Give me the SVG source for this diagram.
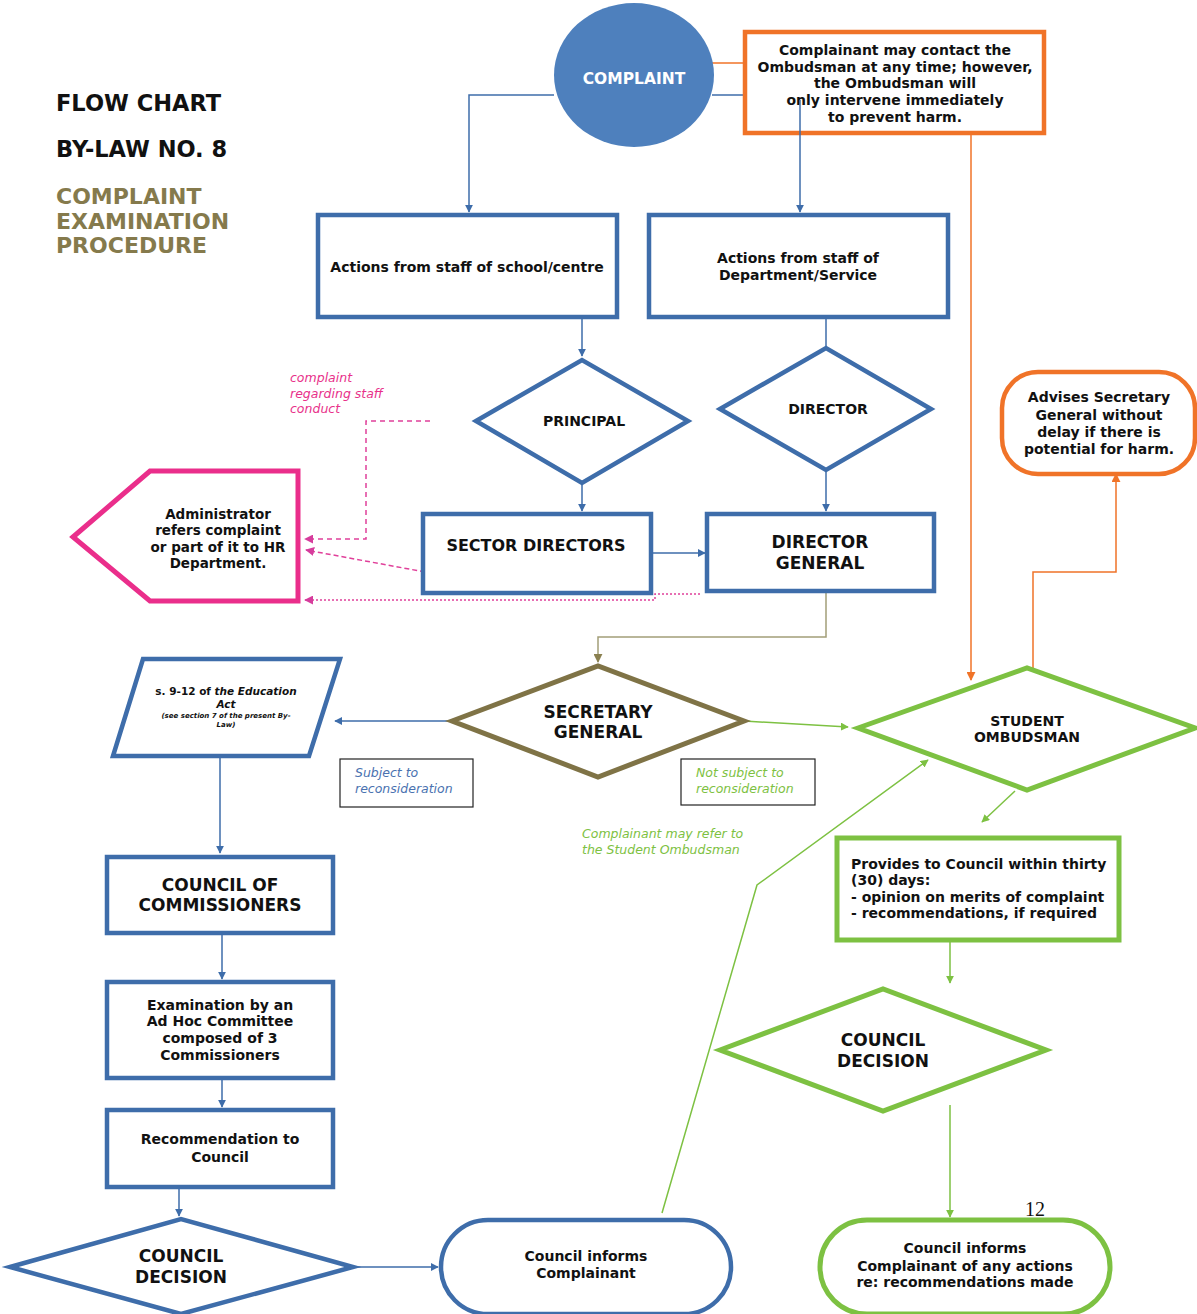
<svg xmlns="http://www.w3.org/2000/svg" width="1197" height="1314" viewBox="0 0 1197 1314">
<style>
text{font-family:"DejaVu Sans","Liberation Sans",Arial,sans-serif;font-weight:bold;fill:#111;text-anchor:middle}
.b{fill:#fff;stroke:#3E6DAA;stroke-width:4.5}
.g{fill:#fff;stroke:#7DC142;stroke-width:5}
.o{fill:#fff;stroke:#F07328;stroke-width:4.5}
.cb{stroke:#3E6DAA;stroke-width:1.5;fill:none}
.cg{stroke:#7DC142;stroke-width:1.5;fill:none}
.co{stroke:#F07328;stroke-width:1.5;fill:none}
.cp{stroke:#E0409A;stroke-width:1.5;fill:none}
.it{font-style:italic;font-weight:normal;text-anchor:start;font-size:12.5px}
.t14{font-size:14px}
.t17{font-size:17px}
</style>
<defs>
<marker id="ab" viewBox="0 0 10 10" refX="9" refY="5" markerWidth="8" markerHeight="8" orient="auto" markerUnits="userSpaceOnUse"><path d="M0,0L10,5L0,10z" fill="#3E6DAA"/></marker>
<marker id="ag" viewBox="0 0 10 10" refX="9" refY="5" markerWidth="8" markerHeight="8" orient="auto" markerUnits="userSpaceOnUse"><path d="M0,0L10,5L0,10z" fill="#7DC142"/></marker>
<marker id="ao" viewBox="0 0 10 10" refX="9" refY="5" markerWidth="9" markerHeight="9" orient="auto" markerUnits="userSpaceOnUse"><path d="M0,0L10,5L0,10z" fill="#F07328"/></marker>
<marker id="ap" viewBox="0 0 10 10" refX="9" refY="5" markerWidth="9" markerHeight="9" orient="auto" markerUnits="userSpaceOnUse"><path d="M0,0L10,5L0,10z" fill="#D63C9C"/></marker>
<marker id="av" viewBox="0 0 10 10" refX="9" refY="5" markerWidth="9" markerHeight="9" orient="auto" markerUnits="userSpaceOnUse"><path d="M0,0L10,5L0,10z" fill="#8A8050"/></marker>
</defs>
<rect width="1197" height="1314" fill="#fff"/>

<g id="title">
<text x="56" y="111" style="text-anchor:start;font-size:22.5px">FLOW CHART</text>
<text x="56" y="157" style="text-anchor:start;font-size:22.5px">BY-LAW NO. 8</text>
<text x="56" y="204" style="text-anchor:start;font-size:22px;fill:#857A4C">COMPLAINT</text>
<text x="56" y="229" style="text-anchor:start;font-size:22px;fill:#857A4C">EXAMINATION</text>
<text x="56" y="253" style="text-anchor:start;font-size:22px;fill:#857A4C">PROCEDURE</text>
</g>

<g id="connectors">
<path class="cb" d="M554,95H469V212" marker-end="url(#ab)"/>
<path class="cb" d="M712,95H746"/>
<path class="co" d="M712,63H746"/>
<path class="co" d="M971,133V680" marker-end="url(#ao)"/>
<path class="co" d="M1033,668V572H1116V474" marker-end="url(#ao)"/>
<path class="cb" d="M582,317V356" marker-end="url(#ab)"/>
<path class="cb" d="M826,317V348"/>
<path class="cb" d="M582,483V511" marker-end="url(#ab)"/>
<path class="cb" d="M826,470V511" marker-end="url(#ab)"/>
<path class="cb" d="M651,553H705" marker-end="url(#ab)"/>
<path class="cp" d="M430,421H366V539H305" stroke-dasharray="5,4" marker-end="url(#ap)"/>
<path class="cp" d="M425,572L306,550" stroke-dasharray="5,3" marker-end="url(#ap)"/>
<path class="cp" d="M700,594H655V600H305" stroke-dasharray="2,2" marker-end="url(#ap)"/>
<path d="M826,591V637H598V662" stroke="#A39E78" stroke-width="1.5" fill="none" marker-end="url(#av)"/>
<path class="cb" d="M452,721H335" marker-end="url(#ab)"/>
<path class="cg" d="M744,721L848,727" marker-end="url(#ag)"/>
<path class="cb" d="M220,756V853" marker-end="url(#ab)"/>
<path class="cb" d="M222,933V979" marker-end="url(#ab)"/>
<path class="cb" d="M222,1062V1107" marker-end="url(#ab)"/>
<path class="cb" d="M179,1187V1216" marker-end="url(#ab)"/>
<path class="cb" d="M353,1267H438" marker-end="url(#ab)"/>
<path class="cg" d="M662,1213L757,885L928,760" marker-end="url(#ag)"/>
<path class="cg" d="M1015,791L982,822" marker-end="url(#ag)"/>
<path class="cg" d="M950,940V983" marker-end="url(#ag)"/>
<path class="cg" d="M950,1105V1217" marker-end="url(#ag)"/>
</g>

<g id="complaint">
<ellipse cx="634" cy="75" rx="80" ry="72" fill="#4E80BD"/>
<text x="634" y="84" style="fill:#fff;font-size:15.5px">COMPLAINT</text>
</g>

<g id="ombudsman-note">
<rect class="o" x="745" y="32" width="299" height="101"/>
<text class="t14" x="895" y="55">Complainant may contact the</text>
<text class="t14" x="895" y="72">Ombudsman at any time; however,</text>
<text class="t14" x="895" y="88">the Ombudsman will</text>
<text class="t14" x="895" y="105">only intervene immediately</text>
<text class="t14" x="895" y="122">to prevent harm.</text>
<path class="cb" d="M800,100V212" marker-end="url(#ab)"/>
</g>

<g id="school-staff">
<rect class="b" x="318" y="215" width="299" height="102"/>
<text class="t14" x="467" y="272">Actions from staff of school/centre</text>
</g>

<g id="dept-staff">
<rect class="b" x="649" y="215" width="299" height="102"/>
<text class="t14" x="798" y="263">Actions from staff of</text>
<text class="t14" x="798" y="280">Department/Service</text>
</g>

<g id="principal">
<path class="b" d="M476,421L582,360L688,421L582,483Z"/>
<text class="t14" x="584" y="426">PRINCIPAL</text>
</g>

<g id="director">
<path class="b" d="M720,409L826,348L931,409L826,470Z"/>
<text class="t14" x="828" y="414">DIRECTOR</text>
</g>

<g id="sector-directors">
<rect class="b" x="423" y="514" width="228" height="79"/>
<text x="536" y="551" style="font-size:16px">SECTOR DIRECTORS</text>
</g>

<g id="director-general">
<rect class="b" x="707" y="514" width="227" height="77"/>
<text class="t17" x="820" y="548">DIRECTOR</text>
<text class="t17" x="820" y="569">GENERAL</text>
</g>

<g id="hr-note">
<text class="it" x="290" y="382" style="fill:#E8318A">complaint</text>
<text class="it" x="290" y="398" style="fill:#E8318A">regarding staff</text>
<text class="it" x="290" y="413" style="fill:#E8318A">conduct</text>
</g>

<g id="administrator">
<path d="M73,537L150,471H298V601H150Z" fill="#fff" stroke="#EA2E8B" stroke-width="5"/>
<text x="218" y="519" style="font-size:13.5px">Administrator</text>
<text x="218" y="535" style="font-size:13.5px">refers complaint</text>
<text x="218" y="552" style="font-size:13.5px">or part of it to HR</text>
<text x="218" y="568" style="font-size:13.5px">Department.</text>
</g>

<g id="secretary-general">
<path d="M452,721L598,666L744,721L598,777Z" fill="#fff" stroke="#7F7346" stroke-width="5"/>
<text class="t17" x="598" y="718">SECRETARY</text>
<text class="t17" x="598" y="738">GENERAL</text>
</g>

<g id="education-act">
<path class="b" d="M143,659H340L309,756H113Z"/>
<text x="226" y="695" style="font-size:10.5px">s. 9-12 of <tspan font-style="italic">the Education</tspan></text>
<text x="226" y="708" style="font-size:10.5px;font-style:italic">Act</text>
<text x="226" y="718" style="font-size:7px;font-style:italic">(see section 7 of the present By-</text>
<text x="226" y="727" style="font-size:7px;font-style:italic">Law)</text>
</g>

<g id="subject-label">
<rect x="340" y="759" width="133" height="48" fill="#fff" stroke="#222" stroke-width="1.2"/>
<text class="it" x="355" y="777" style="fill:#4A72B0">Subject to</text>
<text class="it" x="355" y="793" style="fill:#4A72B0">reconsideration</text>
</g>

<g id="not-subject-label">
<rect x="681" y="759" width="134" height="46" fill="#fff" stroke="#222" stroke-width="1.2"/>
<text class="it" x="696" y="777" style="fill:#7DC142">Not subject to</text>
<text class="it" x="696" y="793" style="fill:#7DC142">reconsideration</text>
</g>

<g id="refer-note">
<text class="it" x="582" y="838" style="fill:#7DC142">Complainant may refer to</text>
<text class="it" x="582" y="854" style="fill:#7DC142">the Student Ombudsman</text>
</g>

<g id="student-ombudsman">
<path class="g" d="M858,728L1027,668L1195,728L1027,790Z"/>
<text class="t14" x="1027" y="726">STUDENT</text>
<text class="t14" x="1027" y="742">OMBUDSMAN</text>
</g>

<g id="advises">
<rect class="o" x="1002" y="372" width="193" height="102" rx="36"/>
<text class="t14" x="1099" y="402">Advises Secretary</text>
<text class="t14" x="1099" y="420">General without</text>
<text class="t14" x="1099" y="437">delay if there is</text>
<text class="t14" x="1099" y="454">potential for harm.</text>
</g>

<g id="provides">
<rect class="g" x="837" y="838" width="282" height="102"/>
<text class="t14" x="851" y="869" style="text-anchor:start">Provides to Council within thirty</text>
<text class="t14" x="851" y="885" style="text-anchor:start">(30) days:</text>
<text class="t14" x="851" y="902" style="text-anchor:start">- opinion on merits of complaint</text>
<text class="t14" x="851" y="918" style="text-anchor:start">- recommendations, if required</text>
</g>

<g id="council-decision-green">
<path class="g" d="M720,1050L883,989L1046,1050L883,1111Z"/>
<text class="t17" x="883" y="1046">COUNCIL</text>
<text class="t17" x="883" y="1067">DECISION</text>
</g>

<g id="council-of-commissioners">
<rect class="b" x="107" y="857" width="226" height="76"/>
<text class="t17" x="220" y="891">COUNCIL OF</text>
<text class="t17" x="220" y="911">COMMISSIONERS</text>
</g>

<g id="examination">
<rect class="b" x="107" y="982" width="226" height="96"/>
<text class="t14" x="220" y="1010">Examination by an</text>
<text class="t14" x="220" y="1026">Ad Hoc Committee</text>
<text class="t14" x="220" y="1043">composed of 3</text>
<text class="t14" x="220" y="1060">Commissioners</text>
</g>

<g id="recommendation">
<rect class="b" x="107" y="1110" width="226" height="77"/>
<text class="t14" x="220" y="1144">Recommendation to</text>
<text class="t14" x="220" y="1162">Council</text>
</g>

<g id="council-decision-blue">
<path class="b" d="M10,1267L181,1219L353,1267L181,1314Z"/>
<text class="t17" x="181" y="1262">COUNCIL</text>
<text class="t17" x="181" y="1283">DECISION</text>
</g>

<g id="council-informs">
<rect class="b" x="441" y="1220" width="290" height="94" rx="47"/>
<text class="t14" x="586" y="1261">Council informs</text>
<text class="t14" x="586" y="1278">Complainant</text>
</g>

<g id="council-informs-actions">
<rect class="g" x="820" y="1220" width="290" height="94" rx="47"/>
<text class="t14" x="965" y="1253">Council informs</text>
<text class="t14" x="965" y="1271">Complainant of any actions</text>
<text class="t14" x="965" y="1287">re: recommendations made</text>
</g>

<text x="1035" y="1216" style="font-family:'Liberation Serif',serif;font-weight:normal;font-size:20px">12</text>
</svg>
